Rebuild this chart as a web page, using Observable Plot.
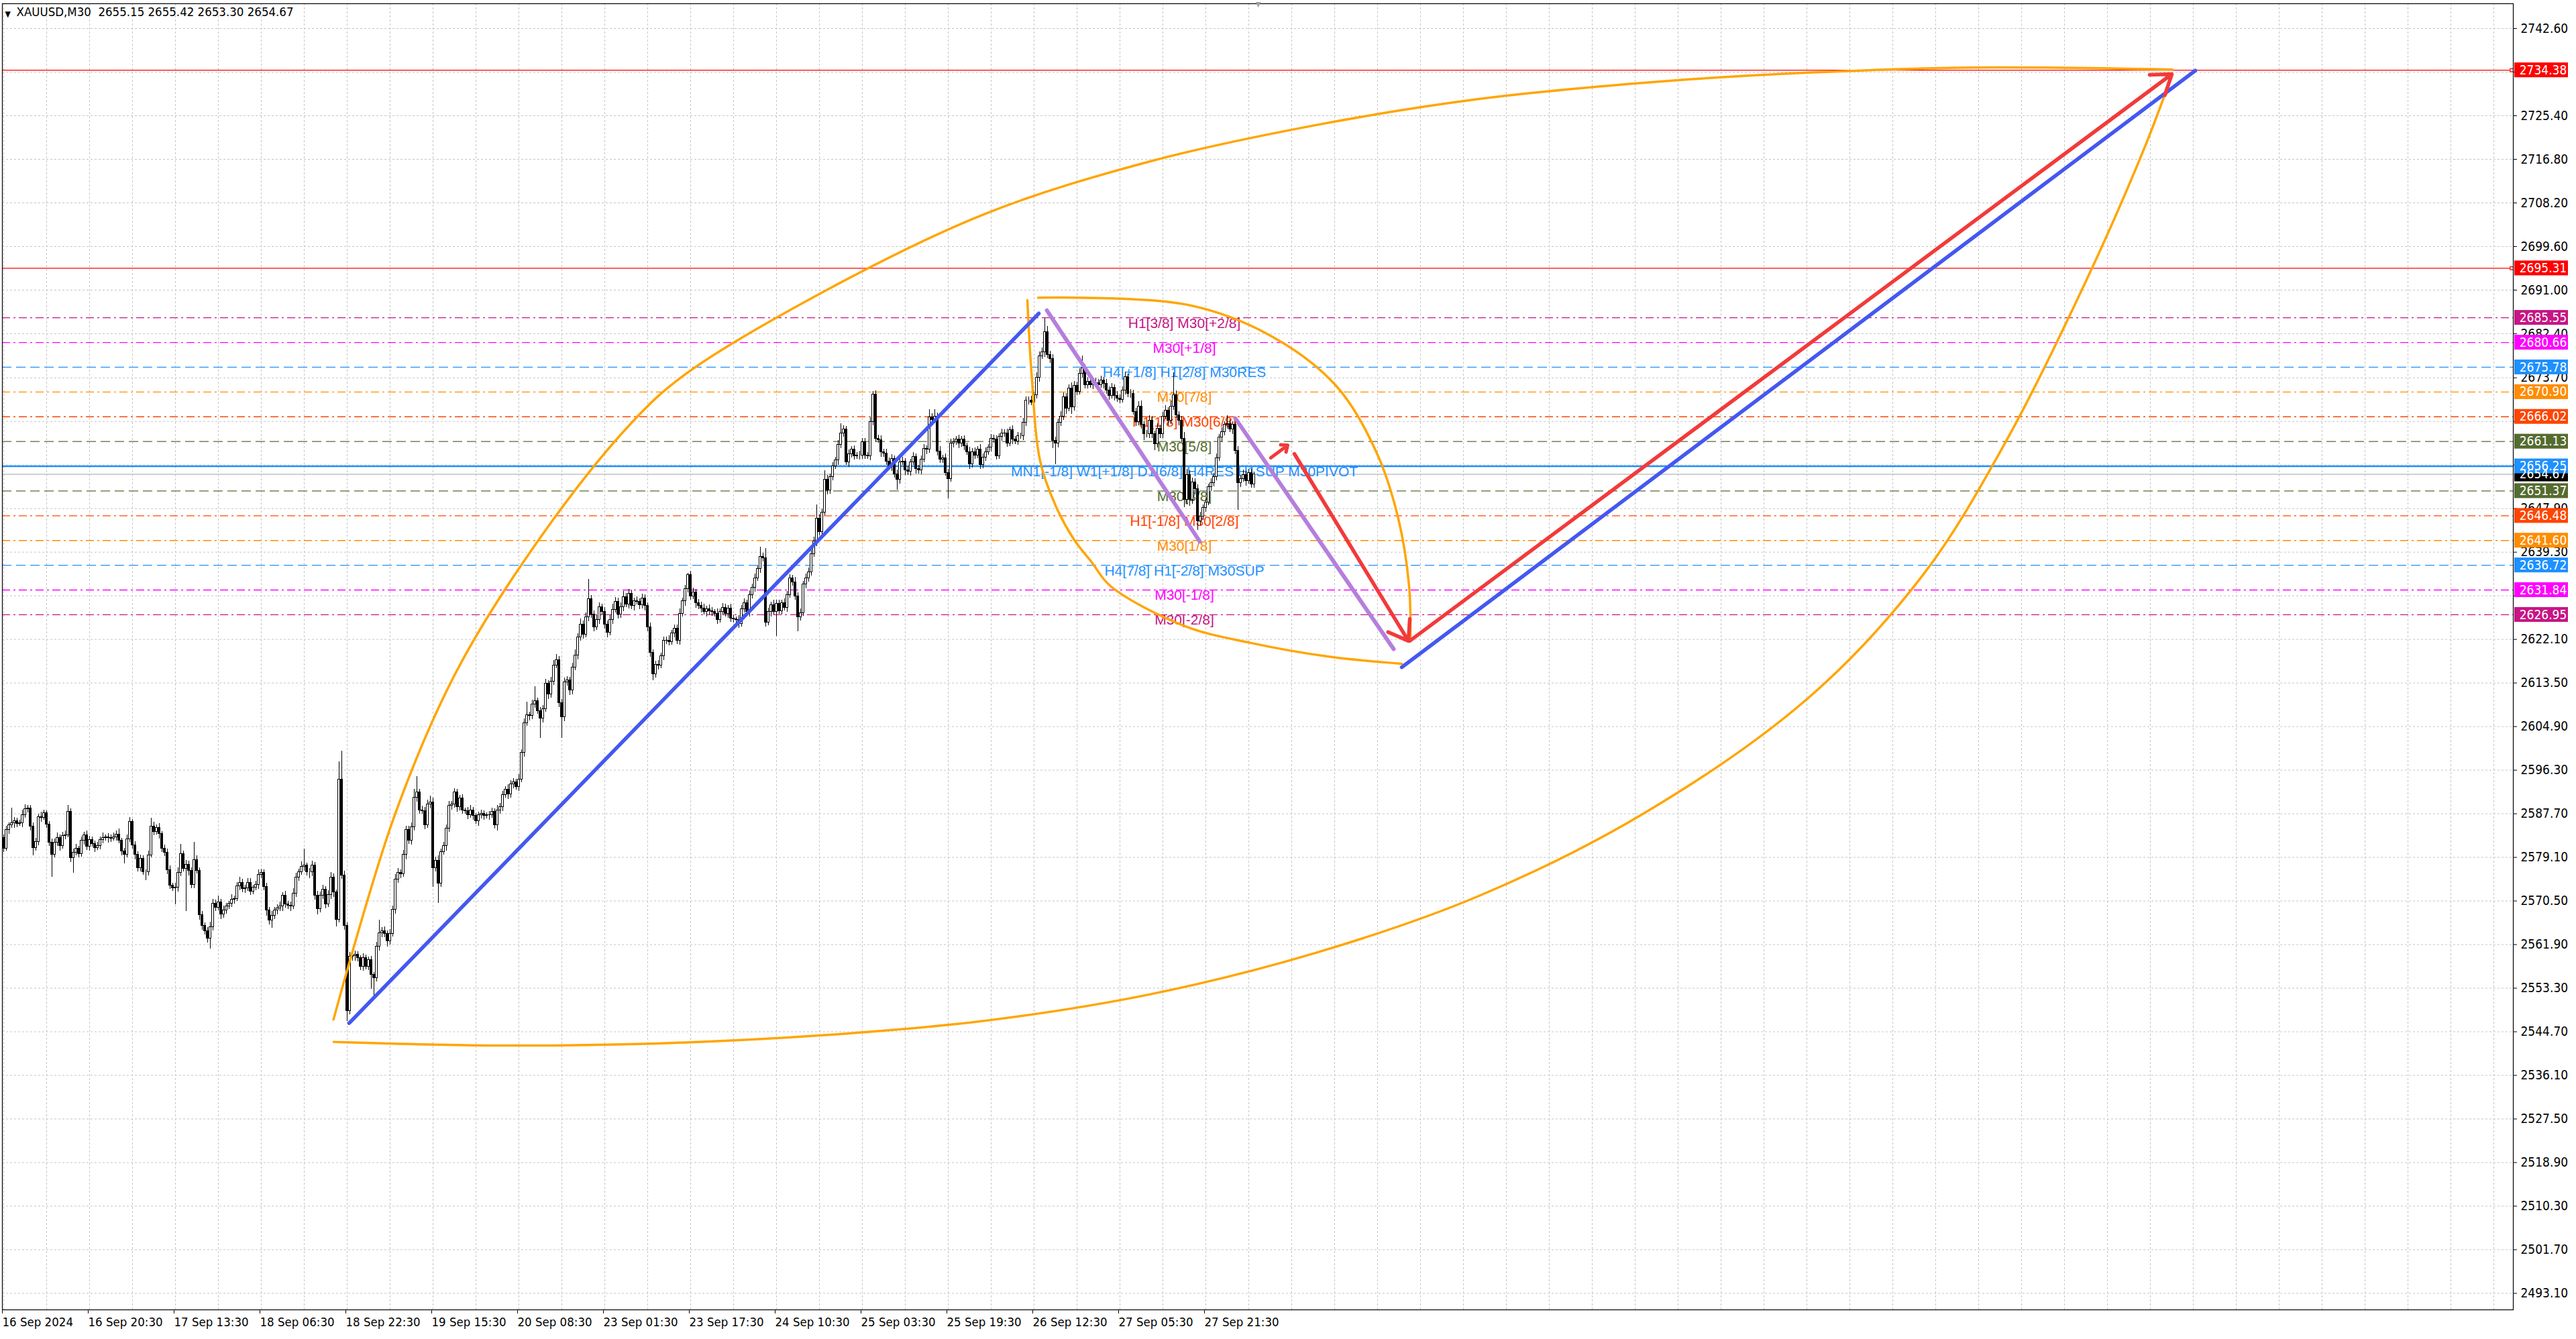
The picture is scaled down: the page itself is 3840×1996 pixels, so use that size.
<!DOCTYPE html>
<html><head><meta charset="utf-8">
<script src="https://cdn.jsdelivr.net/npm/d3@7"></script>
<script src="https://cdn.jsdelivr.net/npm/@observablehq/plot@0.6"></script>
<style>html,body{margin:0;padding:0;background:#fff;}#chart{position:absolute;left:0;top:0;}</style>
</head><body><div id="chart"></div>
<script>
// ---------- DATA ----------
const symbolTitle = "XAUUSD,M30";
const headerOHLC = [2655.15, 2655.42, 2653.30, 2654.67];
const firstOpen = 2583.0;
const closes = [
2580.8,2584.5,2585.4,2585.8,2586.3,2585.7,2585.8,2587.5,2588.6,2588.8,
2585.2,2580.9,2582.1,2587.1,2586.9,2587.8,2585.6,2582.0,2579.7,2582.0,
2583.0,2581.3,2583.4,2583.5,2588.1,2579.0,2580.1,2580.8,2579.8,2582.4,
2583.5,2581.2,2582.6,2581.7,2581.0,2581.3,2582.6,2583.0,2583.1,2582.9,
2582.8,2583.1,2583.6,2582.4,2580.3,2579.7,2582.7,2586.1,2581.5,2579.6,
2577.0,2578.8,2576.2,2576.2,2579.5,2585.2,2584.2,2584.9,2583.7,2580.8,
2580.1,2576.6,2573.5,2573.0,2573.1,2576.0,2579.8,2576.8,2577.7,2576.4,
2573.7,2578.6,2576.5,2567.7,2565.6,2564.5,2563.1,2565.3,2570.0,2569.2,
2570.3,2567.8,2568.7,2569.4,2570.0,2570.8,2570.9,2573.4,2574.1,2572.9,
2573.0,2574.1,2572.4,2573.1,2573.7,2575.7,2576.0,2573.3,2568.7,2566.7,
2567.6,2568.6,2569.1,2569.4,2571.6,2569.8,2569.6,2569.5,2572.0,2575.2,
2576.2,2577.3,2577.5,2576.2,2576.2,2577.5,2571.6,2568.9,2571.6,
2572.7,2569.9,2571.7,2575.1,2572.2,2566.8,2594.5,2575.6,2565.6,2548.8,
2559.5,2559.6,2559.9,2559.2,2557.6,2559.2,2557.6,2558.8,2555.9,2555.3,
2561.5,2564.2,2564.6,2564.0,2562.6,2564.0,2568.8,2574.7,2576.1,2575.8,
2579.6,2584.5,2582.4,2585.0,2590.9,2591.9,2588.4,2588.3,2585.5,2589.5,
2590.0,2577.0,2578.5,2574.0,2580.2,2581.3,2584.8,2589.3,2589.5,2591.9,
2589.0,2590.7,2588.4,2588.3,2587.5,2588.4,2587.3,2586.2,2587.4,2587.7,
2587.3,2587.4,2587.5,2588.1,2585.5,2588.4,2589.0,2591.4,2592.5,2591.5,
2593.5,2593.9,2593.0,2594.5,2599.7,2605.6,2607.1,2607.0,2609.3,2609.9,
2607.9,2606.5,2608.4,2613.4,2611.2,2613.8,
2617.0,2618.0,2609.6,2606.7,2613.6,2614.0,2612.0,2616.5,2619.0,2622.5,
2625.0,2623.0,2626.5,2630.0,2627.0,2624.5,2626.0,2628.5,2627.5,2625.0,
2623.5,2626.0,2628.0,2629.5,2627.0,2628.5,2630.5,2629.0,2631.1,
2628.7,2629.6,2629.5,2628.8,2630.2,2628.7,2624.5,2619.5,2615.2,2617.1,
2616.9,2618.8,2621.8,2621.9,2621.6,2623.3,2624.2,2621.8,2627.2,2629.6,
2632.0,2634.8,2630.6,2631.4,2629.2,2628.7,2628.2,2627.5,2628.1,2627.7,
2627.5,2627.2,2626.0,2627.6,2628.4,2627.2,2628.2,2626.2,2626.1,2625.9,
2625.2,2628.1,2629.3,2627.5,2630.8,2632.3,2634.2,2636.0,2638.4,2638.1,
2625.4,2627.5,2628.9,2627.6,2629.1,2627.7,2629.2,2628.4,2630.9,2634.1,
2633.4,2630.6,2626.5,2627.3,2633.0,2634.1,2635.4,2638.9,2641.4,2646.0,
2643.3,2647.1,2653.6,2651.5,2654.2,2656.2,2657.4,2660.5,2662.8,2663.5,
2657.0,2658.6,2659.5,2658.3,2658.4,2658.4,2661.0,2658.4,2658.3,2665.0,
2670.4,2661.7,2661.4,2659.0,2658.8,2657.2,2656.2,2657.7,2654.7,2653.6,
2657.0,2657.2,2655.4,2655.2,2657.0,2658.1,2655.7,2655.4,2657.6,2659.7,
2659.5,2665.9,2665.4,2666.1,2659.2,2657.6,2657.9,2654.9,2653.8,2660.7,
2661.0,2661.5,2660.7,2661.5,2660.2,2659.1,2656.6,2659.1,2658.4,2659.6,
2656.5,2658.0,2659.1,2660.0,2661.7,2661.5,2658.3,2662.1,2662.7,2662.8,
2660.8,2663.4,2661.5,2661.2,2662.2,2662.2,2664.8,2669.2,2669.2,2668.8,
2670.3,2673.7,2678.0,2678.7,2682.7,2678.2,2677.4,2661.3,2660.8,2664.8,
2666.1,2669.9,2667.7,2671.6,2667.9,2672.1,2671.0,2674.5,2675.6,2672.3,
2672.9,2672.3,2672.5,2672.7,2672.3,2673.2,2672.5,2671.2,2670.1,2671.8,
2670.1,2669.6,2669.4,2671.2,2673.8,2670.5,2670.5,2667.0,2665.0,2668.1,
2664.4,2662.6,2662.6,2665.3,2662.6,2660.6,2663.7,2662.6,2666.1,2667.2,
2665.2,2668.1,2670.3,2666.3,2665.2,2661.7,2649.6,2654.6,2649.6,2653.1,
2651.8,2645.4,2646.3,2648.0,2649.1,2652.2,2652.9,2654.2,2657.9,2661.9,
2663.0,2664.4,2664.6,2663.5,2664.4,2659.3,2652.9,2653.8,2654.6,2653.3,
2654.9,2652.7,2654.67
];
// wick lengths above / below the body of each bar
const upperWick = [
0.6,0.8,0.5,3.1,0.7,0.5,0.6,0.9,0.9,0.6, 0.5,0.7,0.8,0.6,0.9,0.7,0.5,0.6,0.8,0.7,
0.9,0.6,0.7,0.8,1.2,0.6,0.7,0.9,0.5,0.8, 0.6,0.9,0.7,0.5,0.6,0.8,0.6,0.9,0.5,0.7,
0.6,0.8,0.7,1.1,0.5,0.6,0.8,0.9,0.5,0.7, 0.6,0.8,0.7,0.5,0.9,1.7,0.8,0.6,0.9,0.5,
0.7,0.6,0.8,0.5,0.9,1.1,1.9,0.6,0.8,0.7, 0.6,3.5,0.9,0.5,0.7,0.6,0.8,1.0,0.9,0.7,
1.2,0.6,0.8,0.7,0.5,0.9,0.6,0.8,1.1,0.7, 0.6,0.9,0.8,0.5,0.7,1.0,0.8,0.6,0.7,0.5,
0.8,0.6,0.7,0.9,0.5,0.8,0.6,0.7,0.9,0.8, 0.6,1.0,3.2,0.5,0.7,0.9,0.6,0.8,0.7,0.9,
0.6,0.8,1.0,0.7,0.5,3.5,5.6,0.8,0.6,0.9, 0.7,0.8,0.6,0.5,0.9,0.7,0.6,0.8,0.5,0.9,
2.6,0.7,0.8,0.6,0.9,0.7,1.0,0.8,0.6,0.9, 0.8,0.7,0.9,1.7,3.2,0.6,0.8,0.7,0.9,1.2,
0.8,0.7,0.9,0.6,0.8,0.7,0.9,0.6,0.8,0.7, 0.6,0.8,0.5,0.7,0.9,0.6,0.5,0.7,0.8,0.6,
0.5,0.7,0.8,0.6,0.9,0.7,0.8,0.6,1.0,0.7, 0.8,0.6,0.9,0.7,0.8,2.6,0.7,0.9,2.9,0.6,
0.8,0.7,0.9,0.6,0.8,1.0,1.2,0.8,0.7,0.9, 0.8,0.6,0.9,1.0,0.8,1.1,0.7,0.9,4.0,0.8,
0.7,0.9,0.8,0.6,0.9,0.7,0.8,1.0,0.9,0.7, 0.8,1.1,0.7,0.9,0.8,0.7,0.9,0.6,0.8,0.7,
0.6,0.8,0.5,0.7,0.9,0.6,0.8,0.7,0.9,0.6, 0.8,0.7,0.9,0.6,0.8,0.4,0.7,0.9,0.6,0.8,
0.7,0.9,0.6,0.8,0.7,0.5,0.9,0.6,0.8,0.7, 0.6,0.8,0.7,0.5,0.9,0.7,0.8,0.6,0.9,0.7,
0.8,0.6,1.9,0.7,1.9,0.8,0.6,0.9,0.7,0.8, 0.6,0.9,0.7,0.8,0.6,0.9,0.7,0.8,0.6,0.9,
0.8,0.7,0.9,2.7,0.8,0.7,1.8,0.9,0.6,0.8, 0.7,0.9,1.8,0.8,0.6,0.9,0.7,0.8,0.6,0.9,
0.8,0.7,0.6,0.9,0.6,0.8,0.7,0.9,0.6,0.8, 0.7,0.9,0.6,0.8,0.7,0.9,0.6,0.8,0.7,0.9,
0.6,0.8,0.7,0.9,0.6,1.6,0.8,1.4,0.7,0.9, 0.6,0.8,0.7,0.9,0.8,0.6,0.9,0.7,0.8,0.6,
0.9,0.7,0.8,0.6,0.9,0.7,0.8,0.6,0.9,0.7, 0.8,0.6,0.9,0.7,0.8,0.6,0.9,0.7,0.8,0.6,
0.9,0.8,0.7,0.9,0.6,1.0,0.8,0.9,2.8,1.1, 0.8,0.9,0.7,0.8,1.0,0.9,0.7,0.8,1.1,0.9,
0.8,1.0,2.4,0.7,0.9,0.8,0.6,0.9,0.7,0.8, 0.6,0.9,0.7,0.8,0.6,0.9,0.7,0.8,1.0,0.7,
0.9,0.8,0.7,0.9,1.1,0.8,0.7,0.9,0.8,0.6, 0.9,0.7,0.8,1.0,0.7,0.9,4.4,0.8,0.7,0.9,
1.2,1.0,0.8,0.9,0.7,0.8,0.9,0.7,0.8,0.6, 0.9,0.7,0.8,0.6,0.9,0.7,1.7,0.8,0.7,0.9,
0.8,0.7,0.9,0.6,0.8,0.7,0.5
];
const lowerWick = [
0.7,0.5,0.8,0.6,0.9,0.7,0.5,0.8,0.6,0.7, 0.8,1.4,0.6,0.7,0.9,0.5,0.8,0.7,4.5,0.6,
0.7,0.9,0.6,0.8,0.5,0.9,3.0,0.7,0.8,0.6, 0.9,0.7,0.8,0.6,0.9,0.5,0.7,0.8,0.6,0.9,
0.7,0.5,0.8,0.6,0.9,1.8,0.7,0.6,0.8,0.9, 0.7,0.8,0.6,1.6,0.7,0.5,0.8,0.6,0.9,0.7,
0.8,0.9,0.7,0.6,3.2,0.8,0.7,0.6,8.3,0.9, 0.8,0.7,0.6,0.9,0.8,0.7,0.9,2.1,0.7,0.8,
0.6,0.9,0.7,0.8,0.6,0.7,0.9,0.5,0.8,0.7, 0.9,0.6,0.8,0.7,0.5,0.9,0.7,0.8,1.2,0.9,
1.5,0.7,0.8,0.6,0.9,0.7,0.8,1.0,0.6,0.7, 0.8,0.6,0.9,0.7,1.2,0.8,0.9,1.1,0.7,0.8,
0.9,0.7,0.8,1.0,1.4,0.6,0.8,0.9,2.1,0.7, 0.8,0.9,0.7,0.8,0.9,0.6,0.8,2.8,3.6,0.7,
0.8,0.9,0.7,1.2,0.8,0.6,0.9,0.7,0.8,0.6, 0.9,0.7,0.8,0.6,0.9,0.8,0.7,0.9,0.6,0.8,
3.8,0.7,4.0,0.8,0.6,0.9,0.7,0.8,0.6,0.9, 0.7,0.8,0.6,0.9,0.7,0.8,0.6,0.9,0.7,0.8,
0.6,0.9,0.7,0.8,1.1,0.7,0.8,0.6,0.9,0.7, 0.8,0.6,0.9,0.7,0.8,0.6,0.9,0.7,0.8,0.6,
3.9,0.8,0.7,0.9,0.6,0.8,0.7,0.9,4.1,0.8, 0.7,0.9,0.8,0.6,0.9,0.7,0.8,0.6,0.9,0.7,
0.8,0.6,0.9,0.7,0.8,1.0,0.7,0.9,0.6,0.8, 0.7,0.9,0.6,0.8,0.7,0.9,0.6,0.8,0.7,0.9,
0.8,0.9,1.2,0.7,0.8,0.6,0.9,0.7,0.8,0.6, 0.9,0.7,0.8,0.6,0.9,0.7,0.8,0.6,0.9,0.7,
0.8,0.6,0.9,0.7,0.8,0.6,0.9,0.7,0.8,0.6, 0.9,0.7,0.8,0.6,0.9,0.7,0.8,0.6,0.9,0.7,
0.8,0.6,0.9,0.7,0.8,0.6,0.9,0.7,4.9,0.6, 0.8,0.7,0.9,0.6,0.8,0.7,2.9,0.8,0.6,0.9,
0.7,0.8,0.6,0.9,0.7,0.8,0.6,0.9,0.7,0.8, 0.6,0.9,0.7,0.8,0.6,0.9,0.7,0.8,0.6,0.9,
0.7,0.8,0.6,0.9,0.7,0.8,0.6,0.9,0.7,0.8, 0.6,0.9,0.7,2.0,0.8,0.6,0.9,0.7,0.8,0.6,
0.9,0.7,0.8,0.6,0.9,0.7,0.8,0.6,0.9,0.7, 0.8,0.6,4.0,0.7,0.8,0.6,0.9,0.7,0.8,0.6,
0.9,0.7,0.8,0.6,0.9,0.7,0.8,0.6,0.9,0.7, 0.8,0.6,0.9,0.7,0.8,0.6,0.9,0.7,0.8,0.6,
0.9,0.7,0.8,0.6,0.9,0.7,0.8,0.6,0.9,0.7, 0.8,1.5,4.2,0.9,0.7,0.8,1.2,0.6,1.4,0.7,
0.8,0.6,0.9,0.7,0.8,0.6,0.9,0.7,0.8,0.6, 0.9,0.7,0.8,0.6,0.9,0.7,0.8,0.6,0.9,0.7,
0.8,0.6,0.9,0.7,0.8,1.3,0.7,0.9,0.8,1.2, 0.7,0.9,0.8,0.6,0.9,0.7,0.8,0.6,0.9,0.7,
1.5,0.9,1.2,0.8,1.0,1.8,0.9,0.7,0.8,0.6, 0.9,0.7,0.8,0.6,0.9,0.7,0.8,0.6,0.9,0.7,
5.3,0.8,0.7,0.9,0.6,0.8,0.7
];
const timeLabels = ["16 Sep 2024","16 Sep 20:30","17 Sep 13:30","18 Sep 06:30","18 Sep 22:30","19 Sep 15:30","20 Sep 08:30","23 Sep 01:30","23 Sep 17:30","24 Sep 10:30","25 Sep 03:30","25 Sep 19:30","26 Sep 12:30","27 Sep 05:30","27 Sep 21:30"];
const barsPerTimeLabel = 32;
const barsPerGridLine = 16;
const priceTicks = [2742.6,2734.0,2725.4,2716.8,2708.2,2699.6,2691.0,2682.4,2673.7,2665.1,2656.5,2647.9,2639.3,2630.7,2622.1,2613.5,2604.9,2596.3,2587.7,2579.1,2570.5,2561.9,2553.3,2544.7,2536.1,2527.5,2518.9,2510.3,2501.7,2493.1];
// price-scale labels that are hidden behind the coloured level tags
const hiddenTickLabels = [2734.0, 2665.1, 2656.5, 2630.7];

// Murrey-math style levels
const levelValues = [2685.55,2680.66,2675.78,2670.90,2666.02,2661.13,2656.25,2651.37,2646.48,2641.60,2636.72,2631.84,2626.95];
const levelTexts = ["H1[3/8] M30[+2/8]","M30[+1/8]","H4[+1/8] H1[2/8] M30RES","M30[7/8]","H1[1/8] M30[6/8]","M30[5/8]","MN1[-1/8] W1[+1/8] D1[6/8] H4RES H1SUP M30PIVOT","M30[3/8]","H1[-1/8] M30[2/8]","M30[1/8]","H4[7/8] H1[-2/8] M30SUP","M30[-1/8]","M30[-2/8]"];
const levelLabelBar = 440;
const targetLevels = [2734.38, 2695.31];
const bidPrice = 2654.67;

// drawn objects, as [bar, price] points
const blueTrendUp = [[128.75, 2546.4], [385.75, 2686.4]];
const blueTrendTarget = [[521, 2616.6], [816.75, 2734.3]];
const redArrowUp = [[524, 2621.8], [808, 2733.6]];
const redArrowDown = [[481, 2658.7], [523.5, 2621.8]];
const redArrowSmall = [[472.2, 2657.9], [478.5, 2660.4]];
const purpleDown1 = [[388.75, 2687.0], [445.75, 2641.4]];
const purpleDown2 = [[459, 2665.7], [518, 2620.2]];
const bigArcUpper = [[122.9,2547.1],[145.7,2587.4],[168.75,2615.8],[200.8,2642.8],[233.75,2664.7],[253.25,2674.1],[304.9,2690.5],[366,2706.1],[427.3,2716.4],[488.5,2723.5],[549.8,2728.7],[611,2731.9],[672.3,2733.9],[733.5,2734.9],[808.2,2734.5]];
const bigArcLower = [[123.0,2542.7],[182.4,2542.0],[243.65,2542.4],[304.9,2544.0],[366.1,2546.9],[427.3,2552.1],[488.55,2560.2],[549.8,2571.5],[611,2587.7],[672.2,2610.4],[715.1,2634.7],[745.7,2660.7],[776.3,2693.1],[797.75,2719.0],[808.15,2733.6]];
const smallArcUpper = [[385.5,2689.5],[440.25,2688.2],[470.75,2682.4],[496.25,2672.3],[511.5,2659.1],[519.75,2645.9],[523.75,2632.6],[524.25,2621.8]];
const smallArcLower = [[381.5,2689.0],[383,2675.0],[386.25,2657.3],[392,2648.5],[398.75,2641.9],[405.5,2637.3],[412.5,2632.6],[440.25,2624.7],[464.75,2621.4],[493.75,2618.7],[521,2617.3]];

// ---------- STYLES ----------
const levelColors = ["#C71585","#FF00FF","#1E90FF","#FF8C00","#FF4500","#556B2F","#1E90FF","#556B2F","#FF4500","#FF8C00","#1E90FF","#FF00FF","#C71585"];
const DASHDOT = "12,5,3,5", DASHED = "14,7";
const levelDash = [DASHDOT,DASHDOT,DASHED,DASHDOT,DASHDOT,DASHED,null,DASHED,DASHDOT,DASHDOT,DASHED,DASHDOT,DASHDOT];
const axisFont = "'DejaVu Sans Condensed','Liberation Sans',sans-serif";
const labelFont = "'Liberation Sans',Arial,sans-serif";

// ---------- BUILD ----------
const candles = closes.map((c, i) => {
  const o = i === 0 ? firstOpen : closes[i - 1];
  return {i, o, c, h: Math.max(o, c) + upperWick[i], l: Math.min(o, c) - lowerWick[i]};
});
const levels = levelValues.map((v, i) => ({v, text: levelTexts[i], color: levelColors[i], dash: levelDash[i]}));
const X_MIN = -0.5, X_MAX = 935.25;
const timeTicks = timeLabels.map((_, j) => j * barsPerTimeLabel - 0.5);
const timeMap = new Map(timeTicks.map((t, j) => [t, timeLabels[j]]));
const gridTicks = d3.range(0, X_MAX, barsPerGridLine);
const seg = (p) => ({x1: p[0][0], y1: p[0][1], x2: p[1][0], y2: p[1][1]});
const boxHalf = 1.46;
const boxLevels = [
  ...targetLevels.map(v => ({v, color: "#FF0000"})),
  ...levels.filter(d => d.v > bidPrice && d.v !== 2656.25).map(d => ({v: d.v, color: d.color})),
  {v: bidPrice, color: "#000000"},
  ...levels.filter(d => d.v === 2656.25).map(d => ({v: d.v, color: d.color})),
  ...levels.filter(d => d.v < bidPrice).map(d => ({v: d.v, color: d.color}))
];
const visibleTickLabels = priceTicks.filter(t => !hiddenTickLabels.includes(t));

const marks = [
  Plot.gridX(gridTicks, {stroke: "#c4c4c4", strokeOpacity: 1, strokeDasharray: "3,3"}),
  Plot.gridY(priceTicks, {stroke: "#c4c4c4", strokeOpacity: 1, strokeDasharray: "3,3"}),
  Plot.ruleY([bidPrice], {stroke: "#c0c0c0", strokeWidth: 1.5}),
  ...levels.map(d => Plot.ruleY([d.v], {stroke: d.color, strokeWidth: d.dash ? 1.3 : 2.5, strokeDasharray: d.dash || undefined})),
  Plot.ruleY(targetLevels, {stroke: "#FF0000", strokeWidth: 1.2}),
  Plot.dot(targetLevels, {x: X_MAX - 0.6, y: d => d, symbol: "square", r: 2.6, stroke: "#FF0000", fill: "white", strokeWidth: 1.2}),
  Plot.text(levels, {x: levelLabelBar, y: "v", text: "text", fill: "color", fontSize: 21, fontFamily: labelFont, lineAnchor: "top", dy: 0, textAnchor: "middle"}),
  Plot.ruleX(candles, {x: "i", y1: "l", y2: "h", stroke: "black", strokeWidth: 1, shapeRendering: "crispEdges"}),
  Plot.rect(candles, {x1: d => d.i - 0.34, x2: d => d.i + 0.34, y1: "o", y2: "c", fill: d => d.c >= d.o ? "white" : "black", stroke: "black", strokeWidth: 1, shapeRendering: "crispEdges"}),
  Plot.line(bigArcUpper, {x: d => d[0], y: d => d[1], curve: "catmull-rom", stroke: "#FFA500", strokeWidth: 3.5}),
  Plot.line(bigArcLower, {x: d => d[0], y: d => d[1], curve: "catmull-rom", stroke: "#FFA500", strokeWidth: 3.5}),
  Plot.line(smallArcUpper, {x: d => d[0], y: d => d[1], curve: "catmull-rom", stroke: "#FFA500", strokeWidth: 3.5}),
  Plot.line(smallArcLower, {x: d => d[0], y: d => d[1], curve: "catmull-rom", stroke: "#FFA500", strokeWidth: 3.5}),
  Plot.link([seg(purpleDown1), seg(purpleDown2)], {x1: "x1", y1: "y1", x2: "x2", y2: "y2", stroke: "#B57EDC", strokeWidth: 6, strokeLinecap: "round"}),
  Plot.link([seg(blueTrendUp), seg(blueTrendTarget)], {x1: "x1", y1: "y1", x2: "x2", y2: "y2", stroke: "#4458F0", strokeWidth: 5.5, strokeLinecap: "round"}),
  Plot.arrow([seg(redArrowUp), seg(redArrowDown)], {x1: "x1", y1: "y1", x2: "x2", y2: "y2", stroke: "#F23A3A", strokeWidth: 5.5, headLength: 9, headAngle: 70, strokeLinecap: "round"}),
  Plot.arrow([seg(redArrowSmall)], {x1: "x1", y1: "y1", x2: "x2", y2: "y2", stroke: "#F23A3A", strokeWidth: 5, headLength: 7, headAngle: 80, strokeLinecap: "round"}),
  Plot.frame({stroke: "black", strokeWidth: 1.2}),
  Plot.axisY(priceTicks, {anchor: "right", tickFormat: d => visibleTickLabels.includes(d) ? d.toFixed(2) : "", tickSize: 5, tickPadding: 6, fontSize: 19, fontFamily: axisFont, fill: "black"}),
  Plot.axisX(timeTicks, {anchor: "bottom", tickFormat: d => timeMap.get(d), tickSize: 6, tickPadding: 5, fontSize: 18.5, fontFamily: axisFont, textAnchor: "start", fill: "black"}),
  Plot.rect(boxLevels, {x1: X_MAX + 0.5, x2: X_MAX + 20.5, y1: d => d.v - boxHalf, y2: d => d.v + boxHalf, fill: "color"}),
  Plot.text(boxLevels, {x: X_MAX + 2.3, y: "v", text: d => d.v.toFixed(2), fill: "white", fontSize: 19, fontFamily: axisFont, textAnchor: "start"}),
  Plot.text(["\u25BC"], {x: closes.length + 0.5, frameAnchor: "top", dy: -3, fontSize: 11, fill: "#a0a0a0"}),
  Plot.text(["\u25BC"], {frameAnchor: "top-left", dx: 4, dy: 11, fontSize: 12, textAnchor: "start", fill: "black"}),
  Plot.text([`${symbolTitle}  ${headerOHLC.map(v => v.toFixed(2)).join(" ")}`], {frameAnchor: "top-left", dx: 21, dy: 5, fontSize: 18.5, fontFamily: axisFont, textAnchor: "start", lineAnchor: "top", fill: "black"})
];

const chart = Plot.plot({
  width: 3840, height: 1996,
  marginLeft: 3, marginRight: 94, marginTop: 5, marginBottom: 44,
  x: {type: "linear", domain: [X_MIN, X_MAX]},
  y: {type: "linear", domain: [2489.85, 2747.5]},
  color: {type: "identity"},
  style: {fontFamily: axisFont, background: "white", overflow: "visible", color: "black"},
  marks
});
document.getElementById("chart").appendChild(chart);
</script>
</body></html>
